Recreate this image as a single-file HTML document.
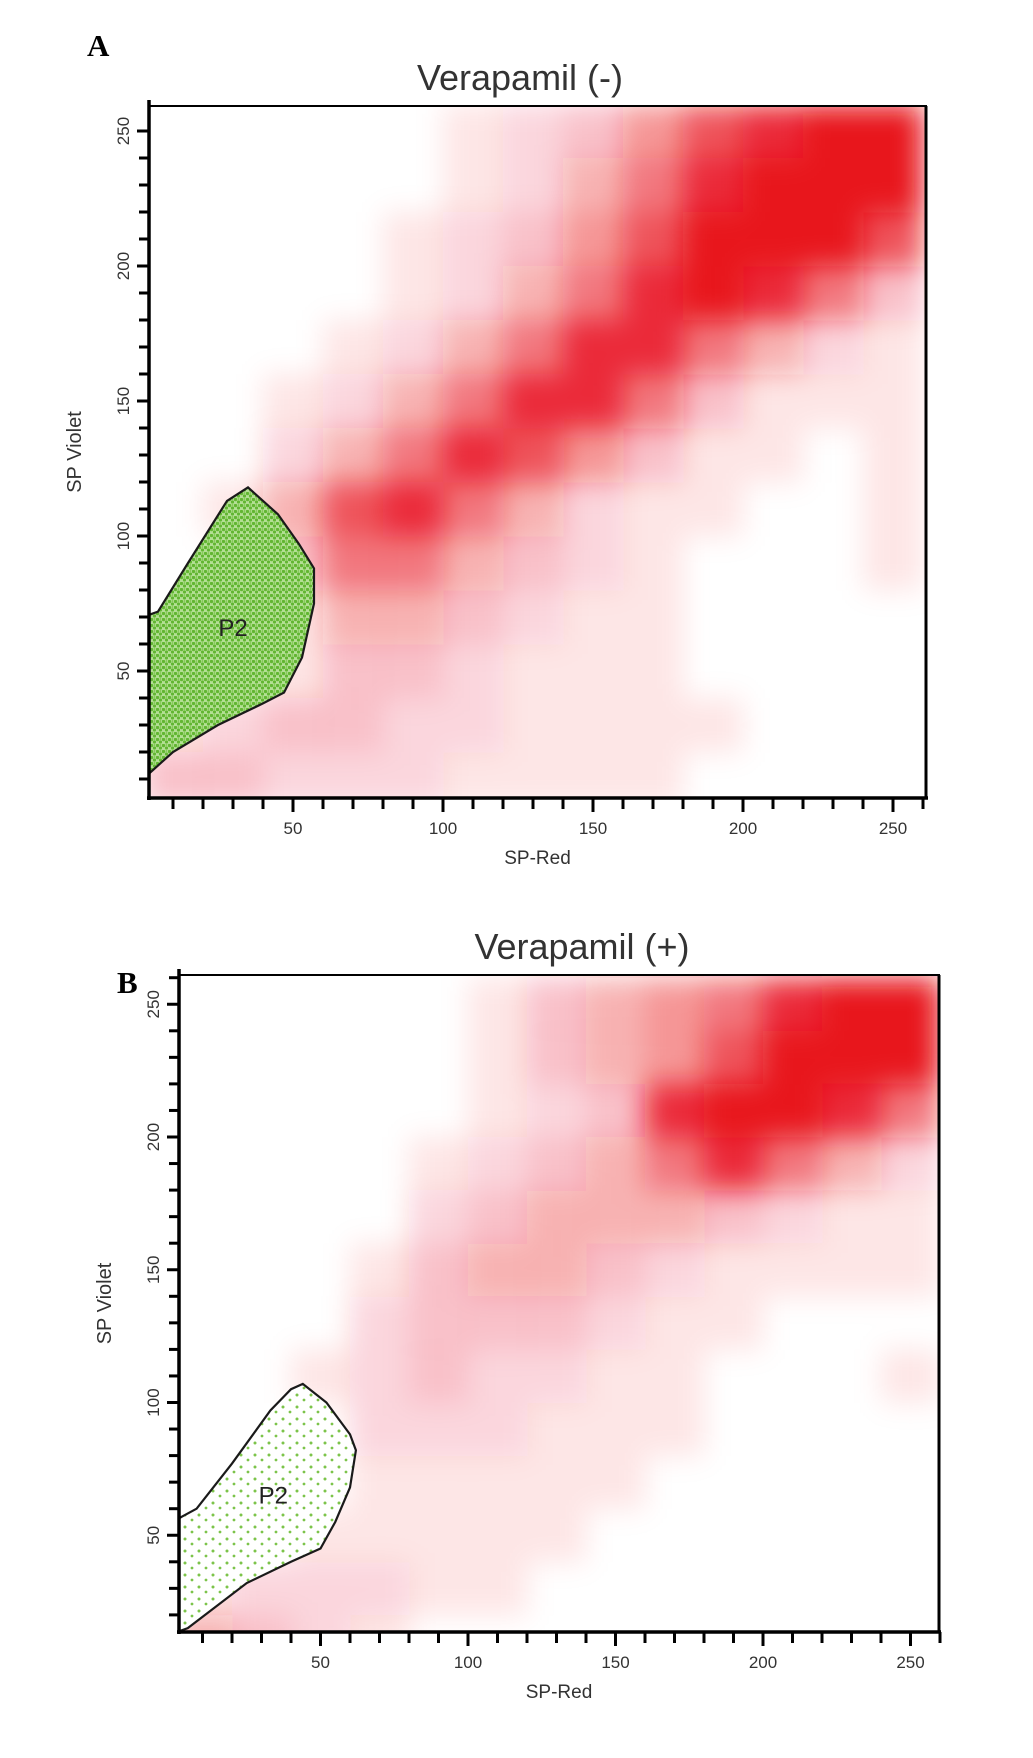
<!DOCTYPE html>
<html><head><meta charset="utf-8"><style>
html,body{margin:0;padding:0;background:#fff;}
svg{display:block;}
text{font-family:"Liberation Sans",sans-serif;}
</style></head><body>
<svg id="fig" width="1033" height="1758" viewBox="0 0 1033 1758">
<defs>
<filter id="blur" x="-10%" y="-10%" width="120%" height="120%"><feGaussianBlur stdDeviation="14"/></filter>
<pattern id="greenDots" width="6" height="6" patternUnits="userSpaceOnUse">
<rect width="6" height="6" fill="#b4df95"/>
<circle cx="1.5" cy="1.5" r="1.7" fill="#62b632"/><circle cx="4.5" cy="4" r="1.6" fill="#62b632"/><circle cx="4.5" cy="1" r="0.9" fill="#7cc44a"/>
</pattern>
<pattern id="greenSparse" width="14" height="12" patternUnits="userSpaceOnUse">
<rect width="14" height="12" fill="#ffffff"/>
<circle cx="3" cy="3" r="1.5" fill="#7cc44a"/><circle cx="10" cy="8" r="1.4" fill="#7cc44a"/>
</pattern>
<clipPath id="clipA"><rect x="149" y="106" width="777" height="692"/></clipPath>
<clipPath id="clipB"><rect x="179" y="975" width="760" height="657"/></clipPath>
</defs>
<text x="87" y="56" font-weight="bold" font-size="31" fill="#000" style="font-family:'Liberation Serif',serif">A</text>
<text x="117" y="993" font-weight="bold" font-size="31" fill="#000" style="font-family:'Liberation Serif',serif">B</text>
<g id="panelA"></g>
<g id="panelB"></g>
</svg>
<script>
// Data: density of red events per 20x20 cell, rows from top (240-260) down to (0-20)
const cellEdges = [0,20,40,60,80,100,120,140,160,180,200,220,240,260];
const densityA = [
[0,0,0,0,0,1,2,3,5,7,8,9,9],
[0,0,0,0,0,1,2,4,6,8,10,10,9],
[0,0,0,0,1,2,3,5,7,9,10,9,7],
[0,0,0,0,1,2,4,6,8,9,8,6,3],
[0,0,0,1,2,4,6,8,8,6,4,2,1],
[0,0,1,2,4,6,8,8,6,3,1,1,1],
[0,0,2,4,6,8,7,5,3,1,1,0,1],
[0,1,4,7,8,6,4,2,1,1,0,0,1],
[0,0,3,6,6,4,3,2,1,0,0,0,1],
[0,0,1,4,4,3,2,1,1,0,0,0,0],
[0,0,1,3,3,2,1,1,1,0,0,0,0],
[1,2,3,3,2,2,1,1,1,1,0,0,0],
[3,3,2,2,2,1,1,1,1,0,0,0,0]];
const densityB = [
[0,0,0,0,0,1,3,4,5,6,8,9,9],
[0,0,0,0,0,1,3,4,5,7,10,10,9],
[0,0,0,0,0,1,2,3,8,10,10,8,6],
[0,0,0,0,1,2,3,4,6,8,6,4,2],
[0,0,0,0,2,3,4,4,4,3,2,1,1],
[0,0,0,1,3,4,4,3,2,1,1,1,1],
[0,0,0,2,3,3,3,2,1,1,0,0,0],
[0,0,1,2,3,2,2,1,1,0,0,0,1],
[0,0,0,2,2,2,1,1,1,0,0,0,0],
[0,0,0,1,1,1,1,1,0,0,0,0,0],
[0,0,1,1,1,1,1,0,0,0,0,0,0],
[1,2,2,2,1,1,0,0,0,0,0,0,0],
[4,3,2,1,0,0,0,0,0,0,0,0,0]];
const gateAx = [0,5,15,28,35,45,52,57,57,53,47,40,25,10,0];
const gateAy = [70,72,90,113,118,108,97,88,75,55,42,38,30,20,10];
const gateBx = [0,3,8,20,33,40,44,52,60,62,60,55,50,40,25,5,0];
const gateBy = [55,57,60,77,97,105,107,100,88,82,68,55,45,40,32,15,13];
const xTicks = [50,100,150,200,250];
const yTicks = [50,100,150,200,250];
const titleA = "Verapamil (-)";
const titleB = "Verapamil (+)";

const NS = "http://www.w3.org/2000/svg";
function mk(tag, attrs, parent){
  const e = document.createElementNS(NS, tag);
  for (const k in attrs) e.setAttribute(k, attrs[k]);
  parent.appendChild(e);
  return e;
}
function alphaFor(v){ return Math.min(1, 0.05 + v*0.04 + v*v*0.008); }
function drawPanel(g, cfg, density, gx, gy, title, clipId, greenFill, pid){
  const X = v => cfg.x0 + v*cfg.sx;
  const Y = v => cfg.y0 - v*cfg.sy;
  const L = cfg.left, R = cfg.right, T = cfg.top, B = cfg.bottom;
  const dens = mk('g', {'clip-path':'url(#'+clipId+')'}, g);
  
  
  const blurG = mk('g', {filter:'url(#blur)'}, dens);
  const n = density.length;
  for (let r=0;r<n;r++){
    for (let c=0;c<density[r].length;c++){
      const v = density[r][c];
      if (!v) continue;
      const yHi = cellEdges[n-r], yLo = cellEdges[n-1-r];
      const rc = mk('rect', {x:X(cellEdges[c]), y:Y(yHi), width:X(cellEdges[c+1])-X(cellEdges[c])+0.5, height:Y(yLo)-Y(yHi)+0.5, fill:'#e8121c', 'fill-opacity':alphaFor(v)}, blurG);
      
      
    }
  }
  const pts = gx.map((v,i)=>X(v)+','+Y(gy[i])).join(' ');
  const gate = mk('polygon', {points:pts, fill:greenFill, stroke:'#1a1a1a', 'stroke-width':2.2, 'clip-path':'url(#'+clipId+')'}, g);
  
  
  const gl = mk('text', {x:X(cfg.p2[0]), y:Y(cfg.p2[1]), 'font-size':24, fill:'#222', 'text-anchor':'middle'}, g);
  gl.textContent = 'P2';
  
  
  const fr = mk('rect', {x:L, y:T, width:R-L, height:B-T, fill:'none', stroke:'#000', 'stroke-width':2}, g);
  
  
  mk('line', {x1:L, y1:T-6, x2:L, y2:B+2, stroke:'#000', 'stroke-width':3.5}, g);
  mk('line', {x1:L-2, y1:B, x2:R+2, y2:B, stroke:'#000', 'stroke-width':3.5}, g);
  mk('line', {x1:R, y1:T, x2:R, y2:B, stroke:'#000', 'stroke-width':3}, g);
  for (let v=10; X(v)<=R+1; v+=10){
    const major = v%50===0;
    mk('line', {x1:X(v), y1:B, x2:X(v), y2:B+(major?14:11), stroke:'#000', 'stroke-width':3}, g);
  }
  for (let v=10; Y(v)>=T-1; v+=10){
    if (Y(v)>B) continue;
    const major = v%50===0;
    mk('line', {x1:L, y1:Y(v), x2:L-(major?12:10), y2:Y(v), stroke:'#000', 'stroke-width':3}, g);
  }
  xTicks.forEach(v=>{
    const t = mk('text', {x:X(v), y:B+36, 'font-size':17, fill:'#333', 'text-anchor':'middle'}, g);
    t.textContent = v;
    
    
  });
  yTicks.forEach(v=>{
    const t = mk('text', {x:L-20, y:Y(v), 'font-size':17, fill:'#333', 'text-anchor':'middle', transform:'rotate(-90 '+(L-20)+' '+Y(v)+')'}, g);
    t.textContent = v;
    
    
  });
  const xt = mk('text', {x:(L+R)/2, y:B+66, 'font-size':19, fill:'#333', 'text-anchor':'middle'}, g);
  xt.textContent = 'SP-Red';
  
  
  const yx = L-68, yy = (T+B)/2;
  const yt = mk('text', {x:yx, y:yy, 'font-size':20, fill:'#333', 'text-anchor':'middle', transform:'rotate(-90 '+yx+' '+yy+')'}, g);
  yt.textContent = 'SP Violet';
  
  
  const tt = mk('text', {x:cfg.titleX, y:T-16, 'font-size':36, fill:'#333', 'text-anchor':'middle'}, g);
  tt.textContent = title;
  
  
}
drawPanel(document.getElementById('panelA'),
  {x0:143, sx:3.0, y0:806, sy:2.7, left:149, right:926, top:106, bottom:798, p2:[30,63], titleX:520},
  densityA, gateAx, gateAy, titleA, 'clipA', 'url(#greenDots)', 'panel-a');
drawPanel(document.getElementById('panelB'),
  {x0:173, sx:2.95, y0:1668, sy:2.655, left:179, right:939, top:975, bottom:1632, p2:[34,62], titleX:582},
  densityB, gateBx, gateBy, titleB, 'clipB', 'url(#greenSparse)', 'panel-b');
</script>
</body></html>
